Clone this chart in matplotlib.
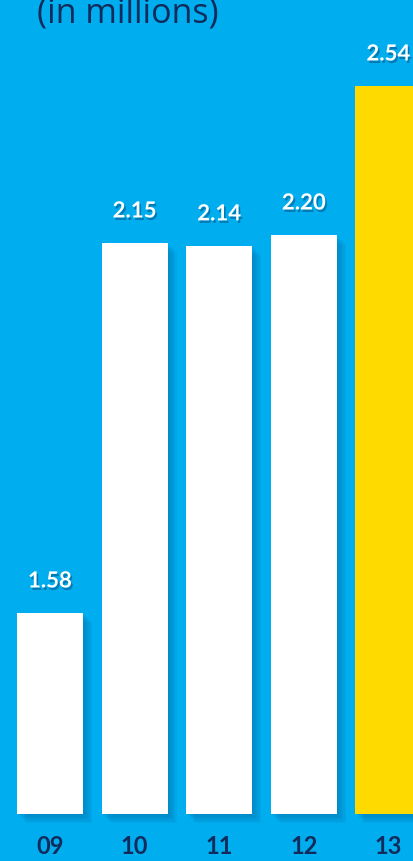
import matplotlib.pyplot as plt
import matplotlib.patheffects as pe

# data
years = ["09", "10", "11", "12", "13"]
values = [1.58, 2.15, 2.14, 2.20, 2.54]
# bar heights as drawn in the source (not to scale with the values)
drawn = [0.757, 2.150, 2.139, 2.180, 2.741]
colors = ["white", "white", "white", "white", "#FFDA00"]

bg = "#00ADEE"
navy = "#112B5C"

W, H = 413, 861
fig = plt.figure(figsize=(W / 100, H / 100), dpi=100, facecolor=bg)
ax = fig.add_axes([0, 0, 1, 1])
ax.set_facecolor(bg)

pxu = 265.6   # pixels per drawn unit
base = 814    # baseline pixel from top
x0, xstep = 50, 84.6
ax.set_xlim(-x0 / xstep, (W - x0) / xstep)
ax.set_ylim(-(H - base) / pxu, base / pxu)

xs = list(range(len(years)))
bw = 66 / xstep

# soft shadows
for k in range(7):
    off = (k + 1) * 1.3
    ax.bar([x + off / xstep for x in xs], drawn, width=bw,
           bottom=-off / pxu, color="#005f99", alpha=0.07, zorder=1)

ax.bar(xs, drawn, width=bw, color=colors, zorder=3)

for x, h, v in zip(xs, drawn, values):
    t = ax.text(x, h + 32 / pxu, f"{v:.2f}", ha="center", va="center",
                color="white", fontsize=16, fontweight="bold", family="Lato", zorder=4)
    t.set_path_effects([pe.SimplePatchShadow(offset=(1.2, -1.8), shadow_rgbFace="#004070", alpha=0.45), pe.Normal()])

for x, y in zip(xs, years):
    ax.text(x, -(846 - base) / pxu, y, ha="center", va="center",
            color=navy, fontsize=17, fontweight="bold", family="Lato")

fig.text(37 / W, 1 - 23 / H, "(in millions)", ha="left", va="baseline",
         color=navy, fontsize=24.5, family="Open Sans")

ax.axis("off")
fig.savefig("out.png", dpi=100, facecolor=bg)
